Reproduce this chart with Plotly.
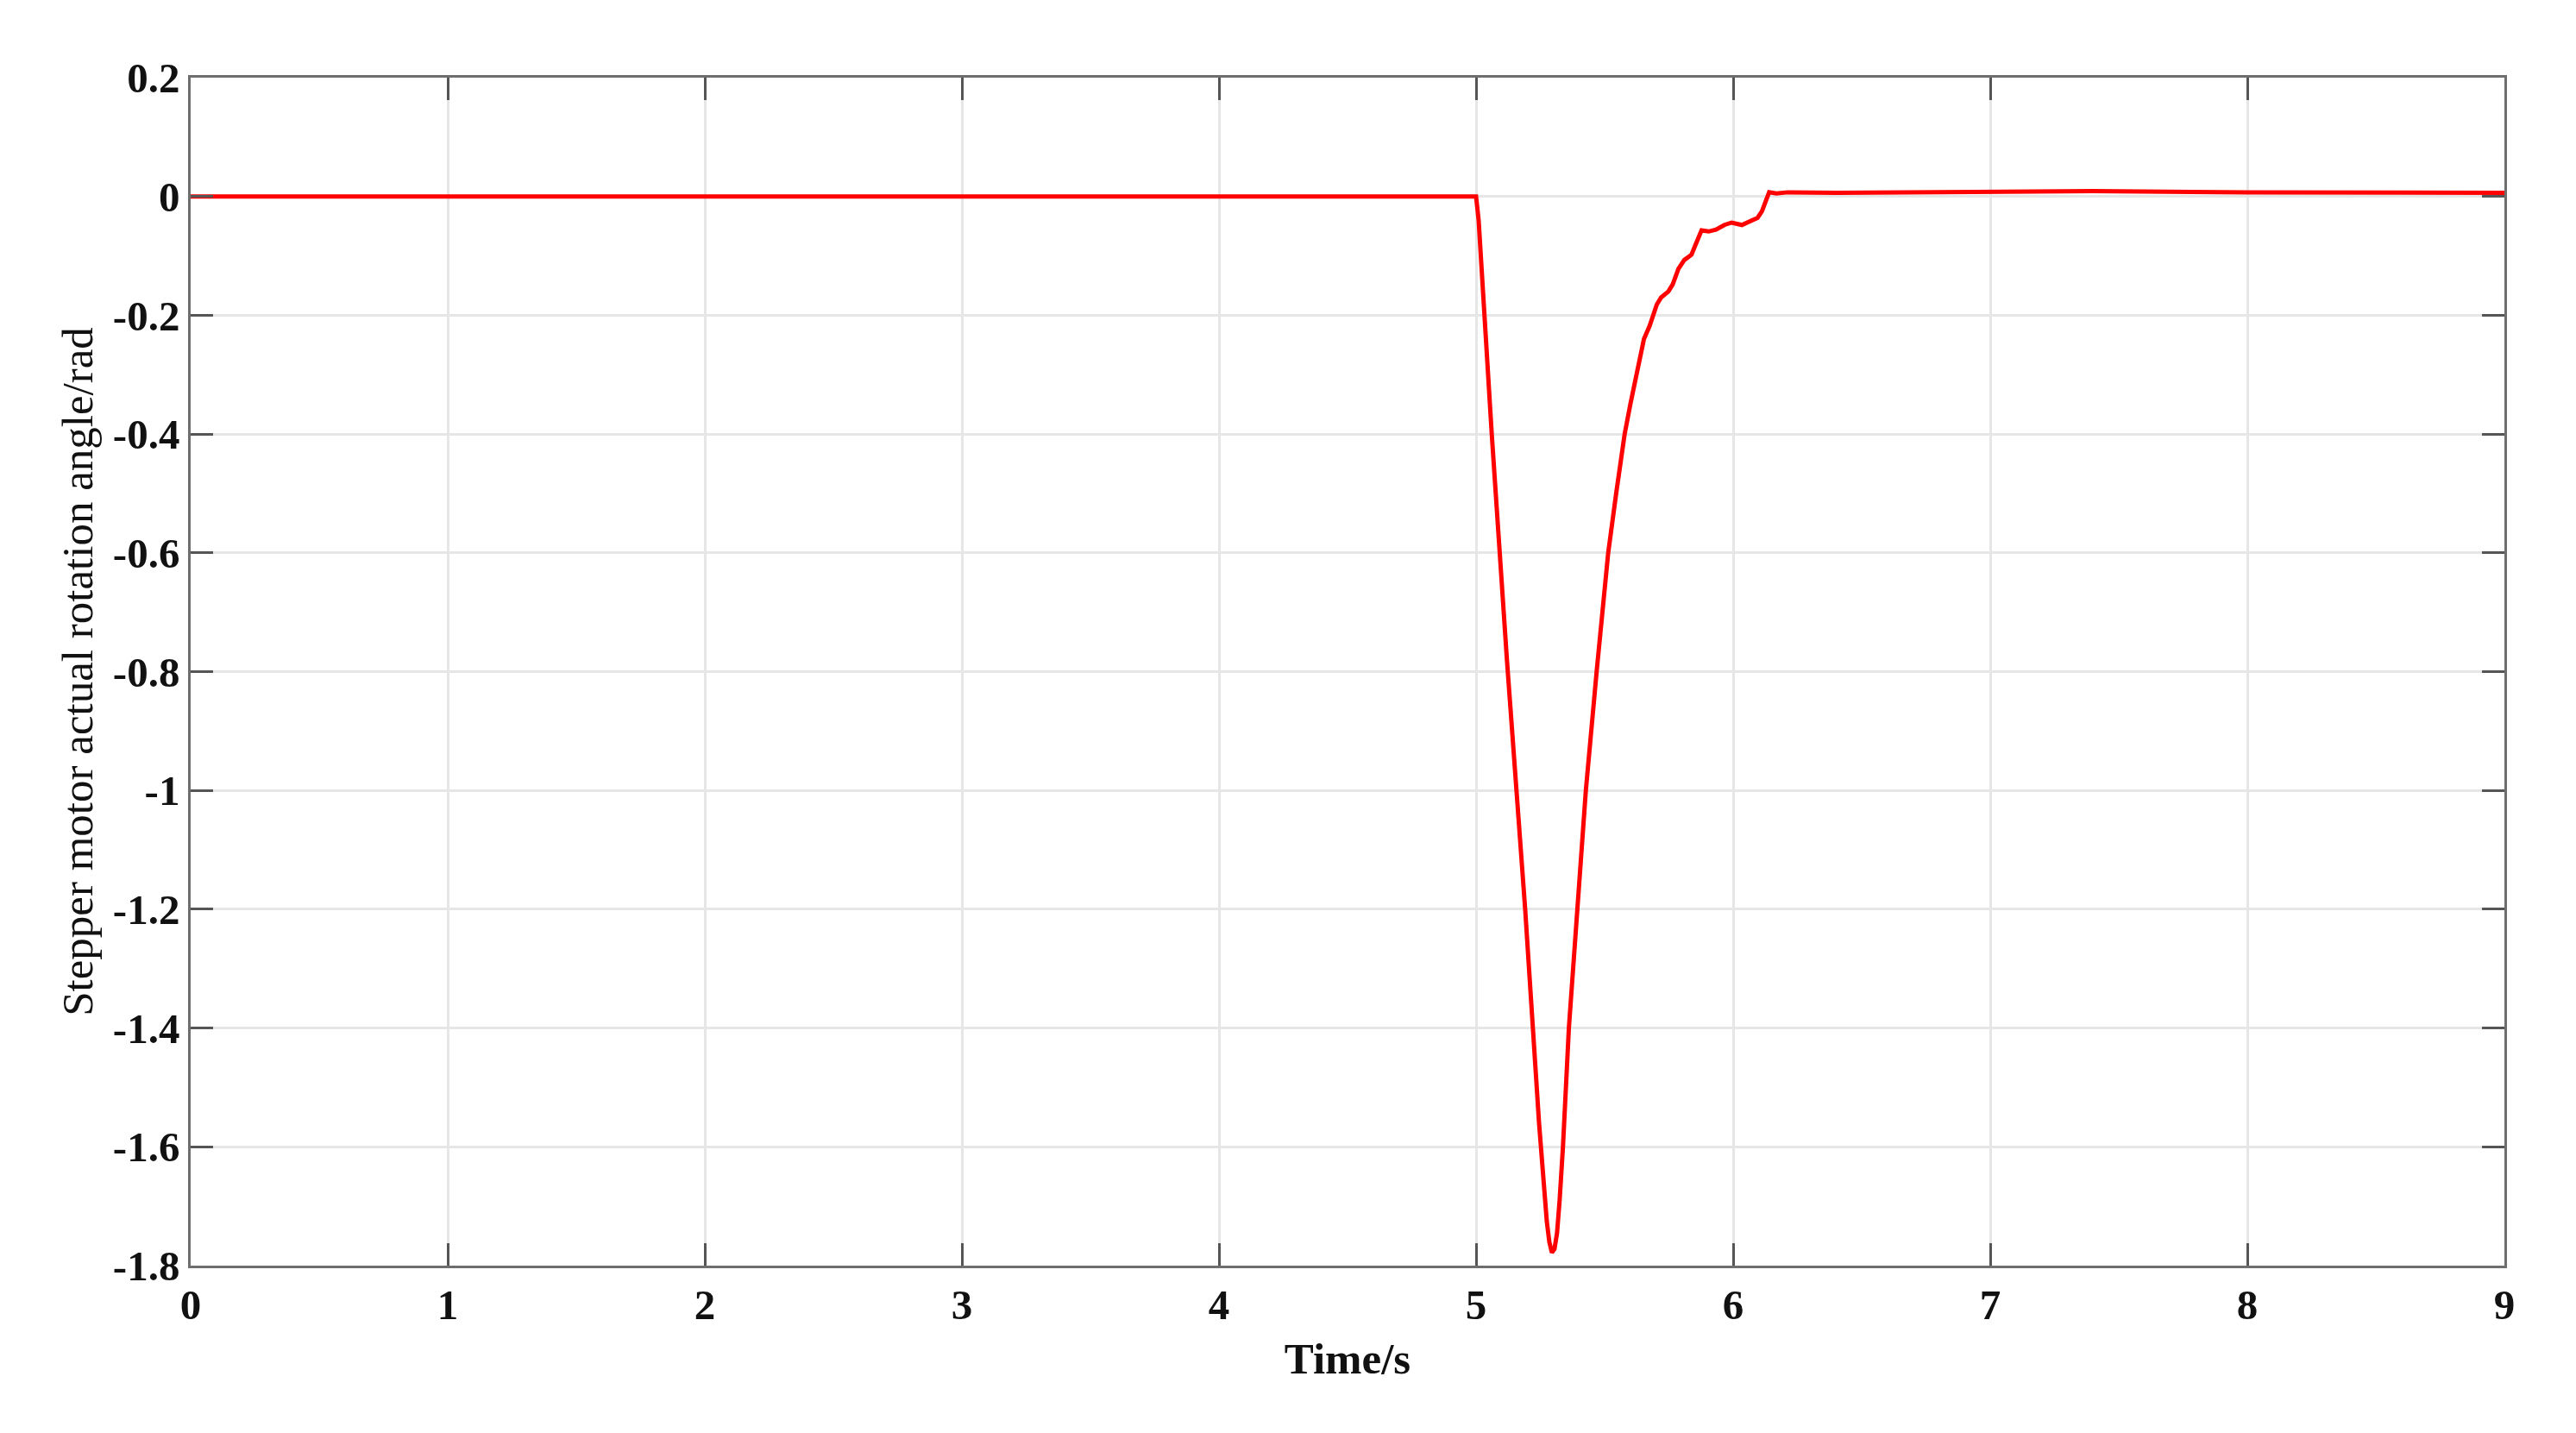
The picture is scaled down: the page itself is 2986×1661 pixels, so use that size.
import plotly.graph_objects as go

# Time (s) and stepper motor actual rotation angle (rad)
time_s = [0, 5.0, 5.01, 5.061, 5.12, 5.191, 5.245, 5.262, 5.275, 5.285, 5.295, 5.305,
          5.315, 5.325, 5.338, 5.361, 5.393, 5.427, 5.469, 5.514, 5.545, 5.578, 5.60,
          5.625, 5.653, 5.675, 5.703, 5.72, 5.748, 5.765, 5.787, 5.81, 5.838, 5.854,
          5.877, 5.905, 5.933, 5.966, 5.994, 6.034, 6.062, 6.095, 6.112, 6.14, 6.168,
          6.213, 6.403, 7.0, 7.4, 8.0, 9.0]
angle_rad = [0, 0, -0.04, -0.4, -0.78, -1.2, -1.56, -1.66, -1.725, -1.76, -1.778, -1.772,
             -1.745, -1.69, -1.6, -1.4, -1.2, -1.0, -0.8, -0.6, -0.5, -0.4, -0.35,
             -0.295, -0.24, -0.218, -0.182, -0.17, -0.16, -0.148, -0.122, -0.107, -0.098,
             -0.081, -0.057, -0.059, -0.056, -0.048, -0.044, -0.048, -0.043, -0.036,
             -0.025, 0.007, 0.005, 0.007, 0.006, 0.007, 0.009, 0.007, 0.006]

x_ticks = [0, 1, 2, 3, 4, 5, 6, 7, 8, 9]
x_ticklabels = ["0", "1", "2", "3", "4", "5", "6", "7", "8", "9"]
y_ticks = [0.2, 0, -0.2, -0.4, -0.6, -0.8, -1.0, -1.2, -1.4, -1.6, -1.8]
y_ticklabels = ["0.2", "0", "-0.2", "-0.4", "-0.6", "-0.8", "-1", "-1.2", "-1.4", "-1.6", "-1.8"]

FONT = "Liberation Serif"

fig = go.Figure()
fig.add_trace(go.Scatter(x=time_s, y=angle_rad, mode="lines",
                         line=dict(color="#ff0000", width=5, shape="linear"),
                         showlegend=False))

axis_common = dict(
    showline=True, linecolor="#6e6e6e", linewidth=2.5, mirror="ticks",
    ticks="inside", ticklen=26, tickwidth=2.5, tickcolor="#555555",
    showgrid=True, gridcolor="#e6e6e6", gridwidth=2.5, zeroline=False,
    tickfont=dict(family=FONT, size=49, color="#111111", weight="bold"),
)

fig.update_xaxes(range=[0, 9], tickvals=x_ticks, ticktext=x_ticklabels,
                 title=dict(text="Time/s", font=dict(family=FONT, size=51, color="#111111", weight="bold"),
                            standoff=18),
                 **axis_common)
fig.update_yaxes(range=[-1.8, 0.2], tickvals=y_ticks, ticktext=y_ticklabels,
                 title=dict(text="Stepper motor actual rotation angle/rad",
                            font=dict(family=FONT, size=51, color="#111111"), standoff=8),
                 **axis_common)

fig.update_layout(
    width=2986, height=1661,
    margin=dict(l=213, r=91, t=82, b=202, autoexpand=False),
    paper_bgcolor="white", plot_bgcolor="white",
)

fig.write_html("out.html")
